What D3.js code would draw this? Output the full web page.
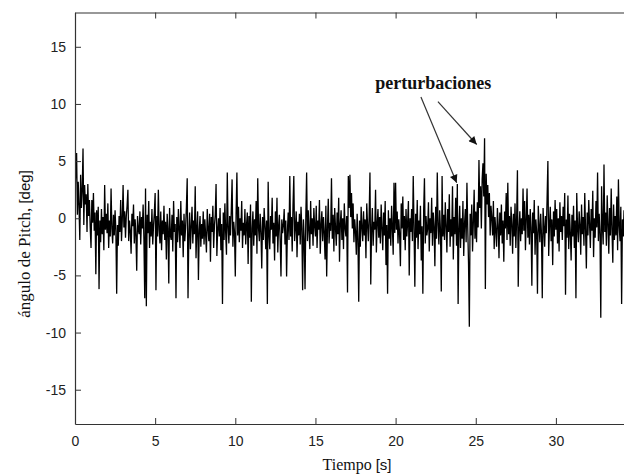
<!DOCTYPE html>
<html lang="es">
<head>
    <meta charset="UTF-8">
    <title>Pitch</title>
    <style>
        body { margin: 0; background: #fff; }
    </style>
</head>
<body>
<script src="https://d3js.org/d3.v7.min.js"></script>
<script>
    let w = 624, h = 476;
    let inner = {left: 75, top: 12.5};
    let W = 35 * 16.03, H = 411.5;

    // sample step of the record, seconds
    let dt = 0.05;

    let xTicks = [0, 5, 10, 15, 20, 25, 30];
    let yTicks = [-15, -10, -5, 0, 5, 10, 15];
    let xDomain = [0, 35];
    let yDomain = [-18, 18];

    // pitch angle, deg (one row = one second)
    let pitch = [
        2.0, 4.1, 5.7, 0.3, 3.2, 1.1, -1.9, 3.8, 0.9, 2.4, 6.1, -0.6, 2.9, 1.2, 2.1, -1.2, 3.0, 0.2, 1.6, -0.8,
        -2.6, 1.6, -0.4, 2.2, -1.1, 0.5, -4.9, 0.7, -1.5, 1.0, -6.2, -0.2, -2.1, 0.8, -1.4, 0.1, -2.8, 2.9, -1.0, 0.4,
        -1.3, 1.3, -2.6, -0.2, -1.6, 2.6, -0.9, -2.2, 0.3, -1.5, 0.7, -1.1, -6.6, -0.6, -2.4, 0.2, -1.2, 1.6, -2.0, -0.1,
        2.9, -0.8, 0.6, -1.7, 0.2, 1.1, 2.5, -2.0, -0.2, -1.1, -3.1, 0.4, -0.7, 1.2, -2.2, -0.1, -1.5, -4.6, 0.2, -1.0,
        -1.4, 0.6, -2.3, 0.1, -0.9, 1.2, -1.9, -7.0, 2.6, -7.7, 0.3, -1.3, 1.5, -2.6, -0.3, -1.6, 0.8, -2.3, -0.6, 0.5,
        2.2, -6.3, 0.2, -1.6, 2.5, -1.0, -2.2, 0.6, -2.8, -0.2, -1.4, 1.1, -1.9, -0.3, -3.6, 0.4, -0.9, -5.7, 0.9, -1.5,
        -1.9, 0.3, -2.9, 1.5, -1.2, -0.5, -7.0, 0.1, -2.1, 0.8, -1.0, -2.6, 1.5, -1.5, -0.2, -3.4, 0.4, -2.0, -0.8, 1.0,
        3.5, -7.0, -1.6, 0.5, -2.7, -0.7, 1.0, -2.2, -0.2, -1.4, 2.8, -3.5, -0.9, 0.6, -5.4, -1.1, 0.2, -2.5, -0.5, -1.8,
        0.6, -2.3, -0.1, -1.5, -3.0, 0.8, -0.9, -2.0, 0.4, -3.8, 0.1, -1.2, 1.1, -2.6, -0.6, 0.3, 3.0, -3.3, -1.0, 0.0,
        -1.6, 0.9, -2.8, -0.5, -7.5, 0.5, -1.9, 1.3, -1.3, -3.2, 4.0, -0.8, -2.2, 0.2, -1.5, 0.7, 3.4, -2.5, -0.3, -1.2,
        -5.1, 0.4, 4.0, -1.5, 1.0, -2.1, 0.0, -1.1, 1.5, -2.6, -0.4, -1.5, 0.8, -2.3, -0.6, 0.5, -4.0, 0.2, -1.7, 1.2,
        -7.3, -0.9, 0.6, -2.4, -0.1, -1.5, 1.5, -3.1, 3.5, -0.9, -2.0, 0.4, -1.2, -4.4, 0.1, -1.9, 0.9, -0.7, -2.7, -0.2,
        -7.5, 3.2, -1.4, -2.7, 0.2, -1.0, 1.8, -2.2, -0.4, -3.7, 0.6, -1.6, 1.8, -3.0, -0.7, 0.3, -2.0, -5.1, -0.1, -1.3,
        -0.6, 0.8, -2.3, -0.2, -5.1, -1.2, 0.5, -1.9, 3.7, -1.6, 0.1, -2.9, 1.1, 3.7, -2.0, -0.8, 0.6, -3.4, -0.3, -1.5,
        0.4, -2.3, 1.0, -0.9, -6.3, -0.1, -1.8, -6.2, 0.2, 4.0, -2.0, 0.7, -1.1, -2.7, 1.5, -1.4, 0.0, -2.4, 0.9, -0.7,
        -1.6, 1.1, -2.6, -0.2, -1.0, 1.6, -3.1, -0.6, 0.6, -2.0, 0.1, -1.3, -3.6, 1.1, -5.1, -0.8, 1.7, -2.2, -0.4, -1.1,
        3.5, -1.8, 0.3, -2.9, 0.9, -0.8, -2.4, 0.5, -1.4, 1.8, -3.8, -0.5, 0.7, -1.9, 0.0, -2.7, 1.3, -0.9, -1.6, 0.2,
        -6.5, 3.7, 0.9, 3.8, 0.1, 2.2, -0.9, 1.3, -2.1, -0.1, -1.2, -3.2, 0.4, -1.8, -7.3, -0.2, -2.5, 1.0, -0.8, -2.0,
        0.6, -1.5, -0.1, -3.5, 1.3, -0.6, -2.0, 0.2, 4.0, -5.8, -1.1, 0.9, -2.4, -0.3, -1.0, 2.5, -3.0, -0.5, 0.8, -1.7,
        0.1, -2.2, 1.2, -0.9, -2.8, 0.5, -1.5, 1.5, -4.1, -0.6, -6.6, 0.7, -1.8, 0.0, -2.4, 1.1, -0.8, -3.2, 3.1, -1.3,
        3.1, -1.0, 0.6, -2.2, -0.1, -1.4, -4.2, 1.3, -0.9, 1.9, -1.9, 0.2, -2.8, 0.8, -1.6, -0.4, 1.5, -5.0, 0.0, -1.2,
        0.8, -2.0, 3.7, -0.8, -6.0, 0.4, -1.7, 1.6, -2.7, -0.2, -1.4, 1.1, -3.7, -0.7, -6.6, 0.6, 3.5, -2.2, 0.2, -1.5,
        -0.9, 1.4, -2.9, 0.0, -1.3, 1.8, -2.4, 0.5, -0.7, -4.2, 1.0, -1.8, 4.0, -0.6, -2.3, 0.7, -1.1, -6.4, 3.7, -1.6,
        0.3, -1.9, 1.4, -0.7, -3.0, 0.8, -1.2, 2.1, -2.5, -0.1, -1.6, 2.8, -3.6, 0.1, -1.4, 1.8, -2.4, 3.0, -7.5, -0.9,
        1.1, -2.6, 0.0, -1.8, 1.5, -3.3, -0.5, 0.8, -2.1, 3.1, -0.8, -4.0, -9.5, 0.4, -1.5, 1.2, -2.9, -0.4, 2.5, -1.8,
        0.6, -2.1, 1.4, -0.8, 5.1, 0.9, 2.8, -0.9, 3.4, 4.8, 1.9, 7.0, -6.2, 3.9, 1.2, 2.9, 0.1, 2.2, -1.5, 1.1,
        0.0, -1.5, 1.5, -2.7, 0.1, -1.1, -2.5, 0.9, -0.6, -3.5, 0.5, -1.5, 1.2, -2.2, -0.2, -3.8, 0.6, -0.9, 2.2, -1.9,
        3.1, -1.4, 0.2, -2.4, 1.0, -0.5, -3.1, 0.4, -1.6, 1.3, -2.6, -0.1, 4.2, -6.0, -1.0, 0.6, -2.0, 0.0, -1.4, 2.6,
        -1.1, 1.5, -2.8, -0.1, 2.6, -1.7, 0.3, -2.3, 0.8, -0.8, -5.9, 0.5, -1.3, 1.6, -3.2, -0.1, -1.2, -6.6, 1.1, -0.6,
        -2.1, 0.4, -1.4, -7.0, 0.9, -0.7, -2.5, 0.2, -1.3, 1.7, 5.0, -3.3, -0.6, 1.0, -2.0, -0.1, -4.1, 0.6, -1.6, 1.6,
        -1.0, 0.8, -2.2, 0.0, -2.9, 1.4, -1.2, 0.2, -1.9, 1.0, -0.7, 2.2, -6.7, -0.1, -1.7, 2.0, -2.7, 0.4, -1.3, -3.7,
        0.3, -1.6, 1.1, -2.6, -0.2, -7.0, 2.2, -0.8, -2.1, 0.6, -0.6, -3.2, 1.2, -1.4, 0.1, -2.4, 2.2, -1.0, -4.4, 0.5,
        -1.5, 1.6, -0.5, -2.6, 0.8, -1.1, 2.4, -3.4, 0.0, -1.7, 1.5, -0.8, 4.0, -2.0, 0.4, -1.4, -8.7, 2.8, -0.6, -2.3,
        4.7, -1.2, 0.5, -2.4, 2.0, -0.5, -3.1, 0.9, -1.5, 2.6, -1.0, -3.9, 1.2, -1.9, 0.2, -1.5, 1.9, -2.8, 3.4, -0.7,
        -2.0, 1.0, -7.5, -0.1, -1.6, 0.7, -2.5, 0.1
    ];

    // annotation: label position and arrow start/end, in data units
    let noteText = "perturbaciones";
    let notePos = [22.35, 11.3];
    let arrows = [
        {from: [21.58, 10.6], to: [23.81, 3.1]},
        {from: [22.64, 10.2], to: [25.06, 6.45]}
    ];

    let x = d3.scaleLinear().domain(xDomain).range([inner.left, inner.left + W]);
    let y = d3.scaleLinear().domain(yDomain).range([inner.top + H, inner.top]);

    let svg = d3.select("body")
        .append("svg")
        .attr("width", w)
        .attr("height", h);

    svg.append("defs").append("clipPath")
        .attr("id", "clip")
        .append("rect")
        .attr("x", inner.left)
        .attr("y", inner.top)
        .attr("width", W)
        .attr("height", H);

    svg.append("defs").append("marker")
        .attr("id", "head")
        .attr("viewBox", "0 0 10 10")
        .attr("refX", 10)
        .attr("refY", 5)
        .attr("markerWidth", 10)
        .attr("markerHeight", 8)
        .attr("markerUnits", "userSpaceOnUse")
        .attr("orient", "auto")
        .append("path")
        .attr("d", "M0,0 L10,5 L0,10 Z")
        .attr("fill", "#111");

    let line = d3.line()
        .x((d, i) => x(i * dt))
        .y(d => y(d));

    svg.append("path")
        .datum(pitch)
        .attr("clip-path", "url(#clip)")
        .attr("d", line)
        .attr("fill", "none")
        .attr("stroke", "#000")
        .attr("stroke-width", 1.3);

    // axes, matlab style: ticks inward, on all sides
    let axisColor = "#333";
    let tickFont = "Liberation Sans, Arial, sans-serif";

    let gx = svg.append("g")
        .attr("transform", "translate(0," + (inner.top + H) + ")")
        .call(d3.axisBottom(x).tickValues(xTicks).tickSizeInner(-6).tickSizeOuter(0).tickPadding(12));
    let gxTop = svg.append("g")
        .attr("transform", "translate(0," + inner.top + ")")
        .call(d3.axisTop(x).tickValues(xTicks).tickSizeInner(-6).tickSizeOuter(0).tickFormat(""));
    let gy = svg.append("g")
        .attr("transform", "translate(" + inner.left + ",0)")
        .call(d3.axisLeft(y).tickValues(yTicks).tickSizeInner(-6).tickSizeOuter(0).tickPadding(9)
            .tickFormat(d => d < 0 ? "-" + Math.abs(d) : d));

    [gx, gxTop, gy].forEach(g => {
        g.select(".domain").attr("stroke", axisColor).attr("stroke-width", 1.2);
        g.selectAll(".tick line").attr("stroke", axisColor);
        g.selectAll(".tick text")
            .attr("fill", "#222")
            .style("font-family", tickFont)
            .style("font-size", "14px");
    });

    // axis titles
    let serif = "Liberation Serif, Times New Roman, serif";
    let xl = svg.append("text")
        .attr("x", 357)
        .attr("y", 470)
        .attr("text-anchor", "middle")
        .style("font-family", serif)
        .style("font-size", "16px")
        .attr("fill", "#111");
    xl.append("tspan").text("Tiempo ");
    xl.append("tspan").style("font-family", tickFont).style("font-size", "15px").text("[s]");

    let yl = svg.append("text")
        .attr("transform", "translate(30,244) rotate(-90)")
        .attr("text-anchor", "middle")
        .style("font-family", serif)
        .style("font-size", "17px")
        .attr("fill", "#111");
    yl.append("tspan").text("ángulo de Pitch,  ");
    yl.append("tspan").style("font-family", tickFont).style("font-size", "15px").text("[deg]");

    // annotation
    svg.append("text")
        .attr("x", x(notePos[0]))
        .attr("y", y(notePos[1]))
        .attr("text-anchor", "middle")
        .style("font-family", serif)
        .style("font-weight", "bold")
        .style("font-size", "18px")
        .attr("fill", "#111")
        .text(noteText);

    svg.selectAll("line.arrow")
        .data(arrows)
        .enter()
        .append("line")
        .attr("class", "arrow")
        .attr("x1", d => x(d.from[0]))
        .attr("y1", d => y(d.from[1]))
        .attr("x2", d => x(d.to[0]))
        .attr("y2", d => y(d.to[1]))
        .attr("stroke", "#333")
        .attr("stroke-width", 1.2)
        .attr("marker-end", "url(#head)");
</script>
</body>
</html>
